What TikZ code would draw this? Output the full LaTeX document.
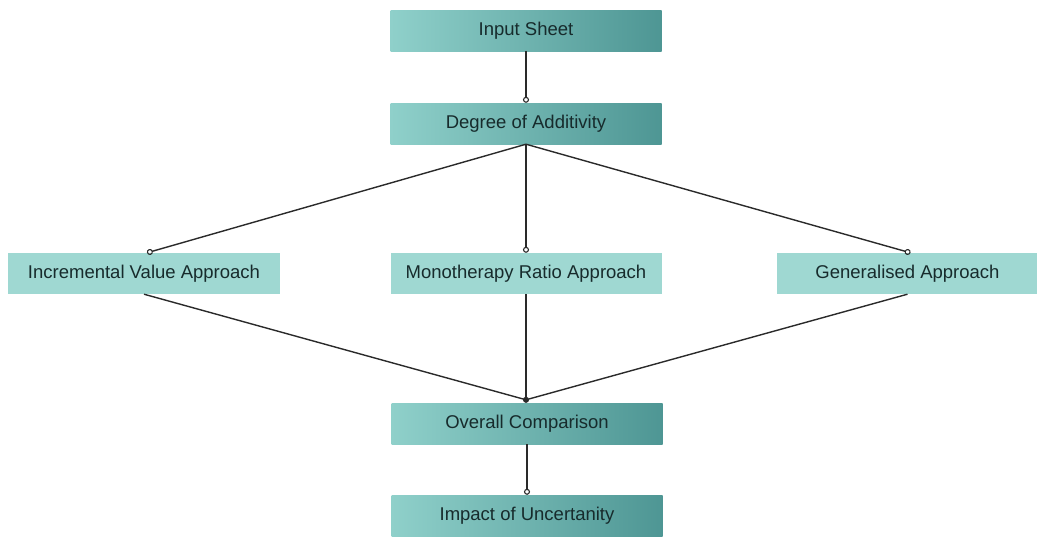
\documentclass[tikz,border=0pt]{standalone}
\usepackage{fontspec}
\setmainfont{Liberation Sans}
\usetikzlibrary{arrows.meta}
\definecolor{tealL}{HTML}{9FD8D2}
\definecolor{tealG}{HTML}{8FD0CA}
\definecolor{tealD}{HTML}{4E9694}
\definecolor{txt}{HTML}{172B2C}
\definecolor{lnc}{HTML}{2A2A2A}
\tikzset{
  box/.style={minimum width=271pt, minimum height=41pt, inner sep=0pt, text=txt,
    font=\fontsize{18.5}{21}\selectfont},
  gbox/.style={box, left color=tealG, right color=tealD, shading angle=90},
  pbox/.style={box, fill=tealL},
  line/.style={draw=lnc, line width=1.4pt},
  conn/.style={line, -{Circle[open,length=6pt,line width=1.1pt]}},
  connf/.style={line, -{Circle[length=6pt]}},
}
\begin{document}
\begin{tikzpicture}[x=1pt,y=-1pt]
\useasboundingbox (0,0) rectangle (1037,536);
\node[gbox] (inp) at (526,30.5) {Input Sheet};
\node[gbox] (deg) at (526,123.5) {Degree of Additivity};
\node[pbox, minimum width=272pt] (inc) at (144,273.5) {Incremental Value Approach};
\node[pbox] (mono) at (526,273.5) {Monotherapy Ratio Approach};
\node[pbox, minimum width=261pt] (gen) at (907.5,273.5) {Generalised Approach};
\node[gbox] (ovr) at (527,423.5) {Overall Comparison};
\node[gbox] (imp) at (527,515.5) {Impact of Uncertanity};
\draw[conn] (inp.south) -- (deg.north);
\draw[conn] (deg.south) -- ([xshift=3pt]inc.north);
\draw[conn] (deg.south) -- (mono.north);
\draw[conn] (deg.south) -- ([xshift=3pt]gen.north);
\draw[line] (inc.south) -- ([xshift=-1pt,yshift=3pt]ovr.north);
\draw[line] (gen.south) -- ([xshift=-1pt,yshift=3pt]ovr.north);
\draw[connf] (mono.south) -- ([xshift=-1pt]ovr.north);
\draw[conn] (ovr.south) -- (imp.north);
\end{tikzpicture}
\end{document}
